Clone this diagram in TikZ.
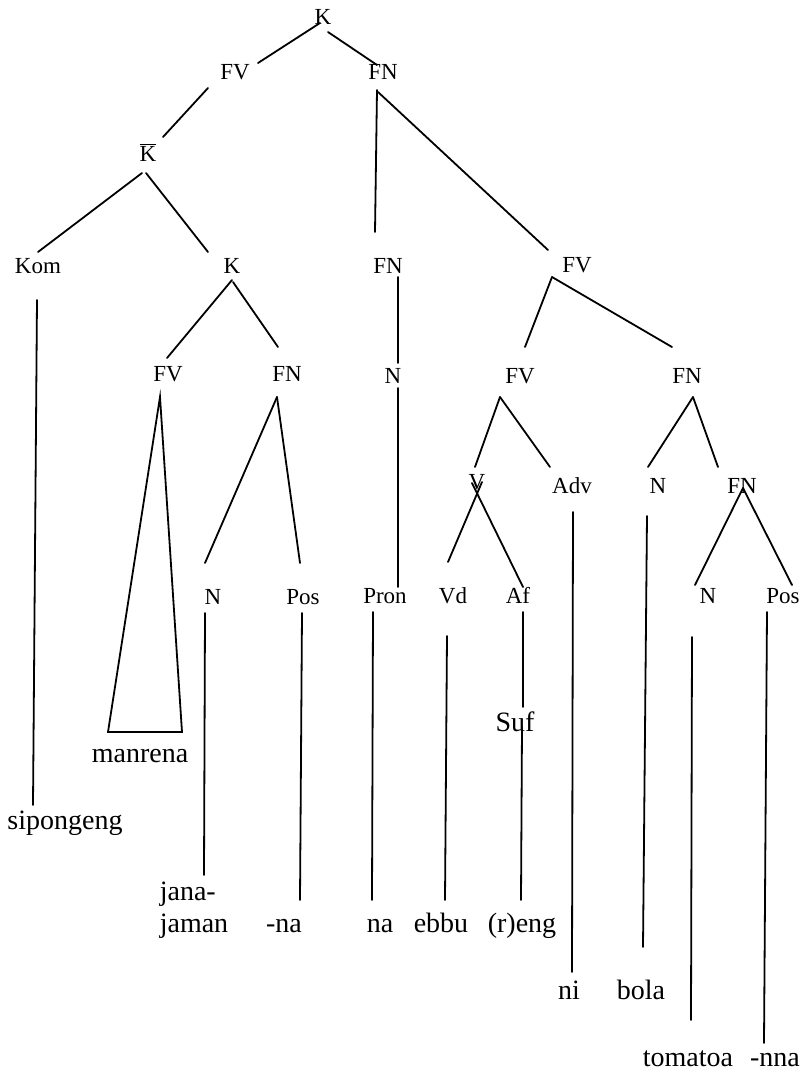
\documentclass[tikz,border=0pt]{standalone}
\usepackage{fontspec}
\setmainfont{Liberation Serif}
\usetikzlibrary{calc}

\tikzset{
  cat/.style={inner sep=0pt, font=\fontsize{11.5}{13}\selectfont,
              text height=1.48ex, text depth=0pt},
  word/.style={inner sep=0pt, font=\fontsize{14}{16}\selectfont,
               text height=1ex, text depth=0pt},
  branch/.style={line width=0.9pt, line cap=round, line join=miter},
}

\begin{document}
\begin{tikzpicture}[x=0.5pt, y=-0.5pt]
  \useasboundingbox (0,0) rectangle (809,1077);
  % categories
  \node[cat] (k0)   at (323,18)  {K};
  \node[cat] (fv1)  at (235,73)  {FV};
  \node[cat] (fn1)  at (383,73)  {FN};
  \node[cat] (kb)   at (148,155) {$\overline{\hbox{K}}$};
  \node[cat] (kom)  at (38,267)  {Kom};
  \node[cat] (k2)   at (232,267) {K};
  \node[cat] (fn2)  at (388,267) {FN};
  \node[cat] (fv2)  at (577,266) {FV};
  \node[cat] (fv3)  at (168,375) {FV};
  \node[cat] (fn3)  at (287,375) {FN};
  \node[cat] (n1)   at (393,377) {N};
  \node[cat] (fv4)  at (520,377) {FV};
  \node[cat] (fn4)  at (687,377) {FN};
  \node[cat] (v)    at (477,483) {V};
  \node[cat] (adv)  at (572,487) {Adv};
  \node[cat] (n2)   at (658,487) {N};
  \node[cat] (fn5)  at (742,487) {FN};
  \node[cat] (n3)   at (213,598) {N};
  \node[cat] (pos1) at (303,598) {Pos};
  \node[cat] (pron) at (385,597) {Pron};
  \node[cat] (vd)   at (453,597) {Vd};
  \node[cat] (af)   at (518,597) {Af};
  \node[cat] (n4)   at (708,597) {N};
  \node[cat] (pos2) at (783,597) {Pos};
  \node[word] (suf) at (515,727) {Suf};
  % words
  \node[word] (manrena) at (140,758)  {manrena};
  \node[word] (sip)     at (65,825)   {sipongeng};
  \node[inner sep=0pt, font=\fontsize{14}{16}\selectfont, align=left]
              (jana)    at (194,910)  {jana-\\jaman};
  \node[word] (na1)     at (284,928)  {-na};
  \node[word] (na2)     at (380,928)  {na};
  \node[word] (ebbu)    at (441,928)  {ebbu};
  \node[word] (reng)    at (522,928)  {(r)eng};
  \node[word] (ni)      at (569,995)  {ni};
  \node[word] (bola)    at (641,995)  {bola};
  \node[word] (tomatoa) at (688,1062) {tomatoa};
  \node[word] (nna)     at (775,1062) {-nna};
  % branches
  \draw[branch] ($(k0)+(-3,5)$) -- ($(fv1)+(23,-10)$);
  \draw[branch] ($(k0)+(5,14)$) -- ($(fn1)+(-6,-8)$);
  \draw[branch] ($(fv1)+(-27,15)$) -- ($(kb)+(15,-18)$);
  \draw[branch] ($(fn1)+(-6,17)$) -- ($(fn2)+(-13,-35)$);
  \draw[branch] ($(fn1)+(-5,19)$) -- ($(fv2)+(-29,-16)$);
  \draw[branch] ($(kb)+(-6,18)$) -- ($(kom)+(0,-15)$);
  \draw[branch] ($(kb)+(-2,18)$) -- ($(k2)+(-24,-15)$);
  \draw[branch] ($(kom)+(-1,33)$) -- ($(sip)+(-32,-20)$);
  \draw[branch] ($(k2)+(0,13)$) -- ($(fv3)+(-1,-17)$);
  \draw[branch] ($(k2)+(1,15)$) -- ($(fn3)+(-9,-28)$);
  \draw[branch] ($(fn2)+(10,10)$) -- ($(n1)+(5,-14)$);
  \draw[branch] ($(fv2)+(-25,11)$) -- ($(fv4)+(5,-30)$);
  \draw[branch] ($(fv2)+(-25,11)$) -- ($(fn4)+(-15,-30)$);
  \draw[branch] ($(fv3)+(-8,22)$) -- ($(manrena)+(-32,-26)$)
    -- ($(manrena)+(42,-26)$) -- cycle;
  \draw[branch] ($(fn3)+(-10,22)$) -- ($(n3)+(-8,-35)$);
  \draw[branch] ($(fn3)+(-10,22)$) -- ($(pos1)+(-3,-35)$);
  \draw[branch] ($(n1)+(5,11)$) -- ($(pron)+(13,-10)$);
  \draw[branch] ($(fv4)+(-20,20)$) -- ($(v)+(-2,-16)$);
  \draw[branch] ($(fv4)+(-20,20)$) -- ($(adv)+(-22,-20)$);
  \draw[branch] ($(fn4)+(6,20)$) -- ($(n2)+(-10,-20)$);
  \draw[branch] ($(fn4)+(6,20)$) -- ($(fn5)+(-24,-20)$);
  \draw[branch] ($(v)+(5,-1)$) -- ($(vd)+(-5,-35)$);
  \draw[branch] ($(v)+(-5,0)$) -- ($(af)+(5,-10)$);
  \draw[branch] ($(adv)+(1,25)$) -- ($(ni)+(3,-23)$);
  \draw[branch] ($(n2)+(-11,29)$) -- ($(bola)+(2,-48)$);
  \draw[branch] ($(fn5)+(1,1)$) -- ($(n4)+(-13,-12)$);
  \draw[branch] ($(fn5)+(1,1)$) -- ($(pos2)+(9,-12)$);
  \draw[branch] ($(pron)+(-12,15)$) -- ($(na2)+(-8,-28)$);
  \draw[branch] ($(vd)+(-6,39)$) -- ($(ebbu)+(4,-28)$);
  \draw[branch] ($(af)+(5,15)$) -- ($(suf)+(8,-20)$);
  \draw[branch] ($(suf)+(7,0)$) -- ($(reng)+(-1,-28)$);
  \draw[branch] ($(n3)+(-8,15)$) -- ($(jana)+(10,-35)$);
  \draw[branch] ($(pos1)+(-1,15)$) -- ($(na1)+(16,-28)$);
  \draw[branch] ($(n4)+(-16,40)$) -- ($(tomatoa)+(3,-42)$);
  \draw[branch] ($(pos2)+(-16,15)$) -- ($(nna)+(-11,-19)$);
\end{tikzpicture}
\end{document}
